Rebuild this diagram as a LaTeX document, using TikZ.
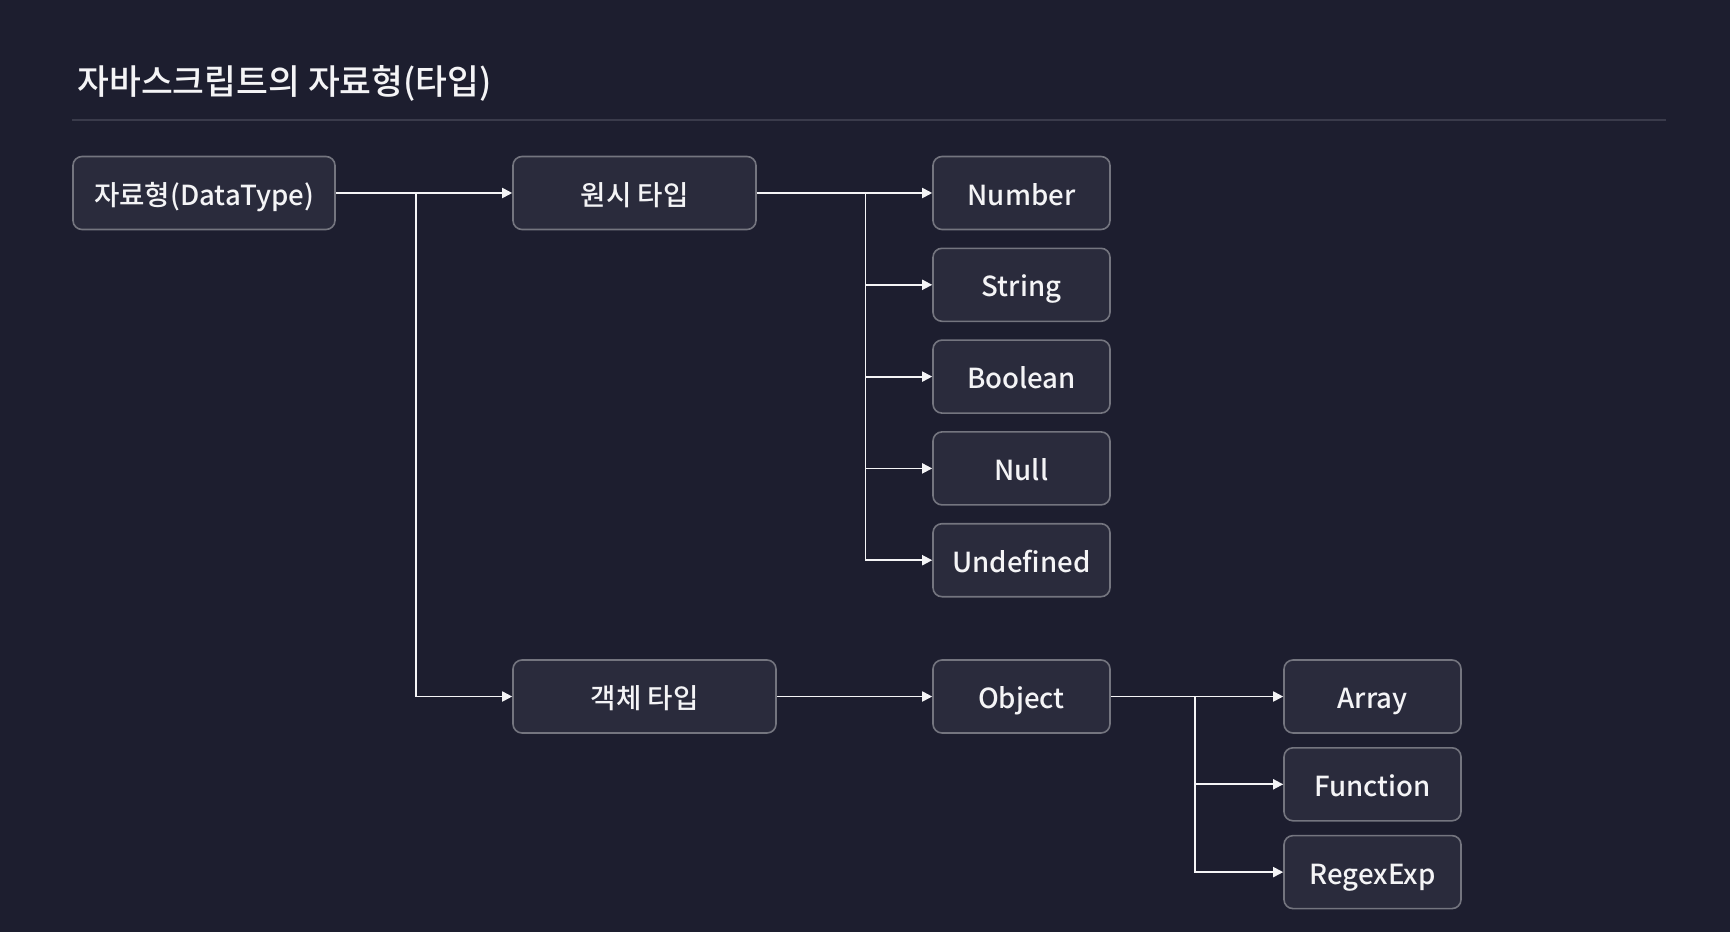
\documentclass[tikz,border=0pt]{standalone}
\usepackage{fontspec}
\setmainfont{Noto Sans CJK KR}
\newfontfamily\medfont{Noto Sans CJK KR Medium}
\usetikzlibrary{arrows.meta,positioning,calc}
\definecolor{bgnavy}{HTML}{1D1E2F}
\definecolor{boxfill}{HTML}{2A2B3C}
\definecolor{boxline}{HTML}{74757F}
\definecolor{rulegray}{HTML}{3A3B4B}
\definecolor{inkwhite}{HTML}{F4F4F6}
\tikzset{
typebox/.style={rectangle,rounded corners=4.5pt,draw=boxline,line width=0.8pt,fill=boxfill,
  minimum height=36.5pt,inner sep=0pt,text height=12pt,text depth=0pt,text=inkwhite,
  font=\medfont\fontsize{13.8}{16}\selectfont},
leafbox/.style={typebox,minimum width=88.5pt},
conn/.style={draw=inkwhite,line width=0.9pt,-{Triangle[length=5pt,width=5pt]}},
sepline/.style={draw=rulegray,line width=0.7pt}
}
\begin{document}
\begin{tikzpicture}[x=0.5pt,y=-0.5pt,node distance=8.6pt]
\fill[bgnavy] (0,0) rectangle (1730,932);
\node[anchor=west,inner sep=0pt,text=inkwhite,font=\medfont\fontsize{17.3}{20}\selectfont] (title) at (77,83) {자바스크립트의 자료형(타입)};
\draw[sepline] (72,120) -- (1666,120);
% left levels
\node[typebox,minimum width=131pt] (dt) at (204,193) {자료형(DataType)};
\node[typebox,minimum width=121.5pt] (prim) at (634.5,193) {원시 타입};
\node[typebox,minimum width=131.5pt] (objt) at (644.5,696.5) {객체 타입};
% primitive types
\node[leafbox] (num) at (1021.5,193) {Number};
\node[leafbox,below=of num] (str) {String};
\node[leafbox,below=of str] (bool) {Boolean};
\node[leafbox,below=of bool] (null) {Null};
\node[leafbox,below=of null] (undef) {Undefined};
% object types
\node[leafbox] (obj) at (1021.5,696.5) {Object};
\node[leafbox] (arr) at (1372.5,696.5) {Array};
\node[leafbox,below=6.6pt of arr] (fn) {Function};
\node[leafbox,below=6.6pt of fn] (regex) {RegexExp};
% junctions
\coordinate (j1) at ($(dt.east)!0.455!(prim.west)$);
\coordinate (j2) at ($(prim.east)!0.62!(num.west)$);
\coordinate (j3) at ($(obj.east)!0.49!(arr.west)$);
\draw[conn] (dt) -- (prim);
\draw[conn] (j1) |- (objt.west);
\draw[conn] (prim) -- (num);
\foreach \n in {str,bool,null,undef} \draw[conn] (j2) |- (\n.west);
\draw[conn] (objt) -- (obj);
\draw[conn] (obj) -- (arr);
\foreach \n in {fn,regex} \draw[conn] (j3) |- (\n.west);
\end{tikzpicture}
\end{document}
